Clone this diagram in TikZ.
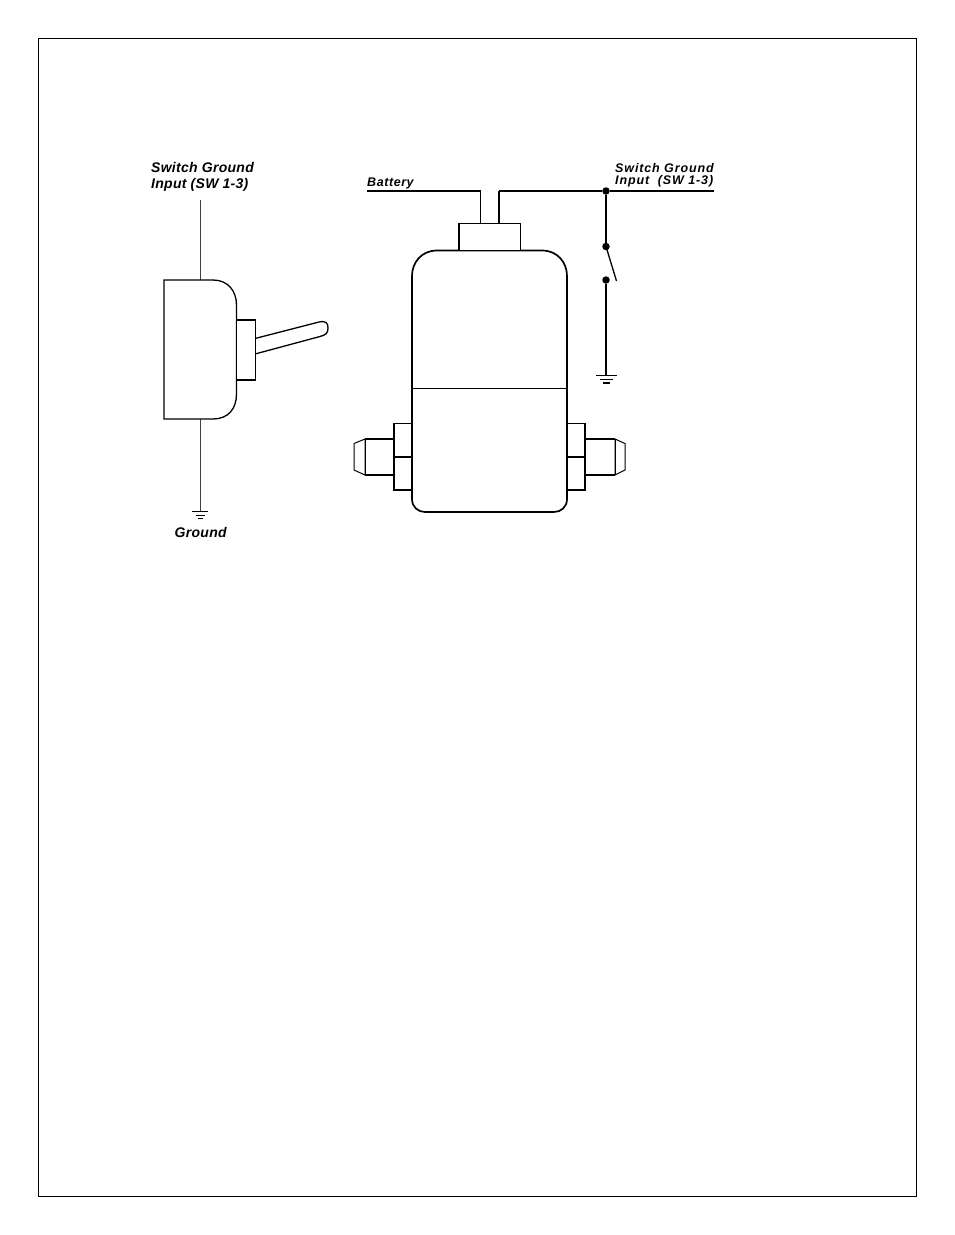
\documentclass[tikz,border=0pt]{standalone}
\usepackage{fontspec}
\setmainfont{Liberation Sans}
\newfontfamily\lblfont[LetterSpace=2]{Liberation Sans}
\newfontfamily\rlblfont[LetterSpace=7]{Liberation Sans}
\newfontfamily\batfont[LetterSpace=4.5]{Liberation Sans}
\tikzset{
  x=1pt,y=-1pt,
  frame/.style={draw=black,line width=1pt},
  part/.style={draw=black,line width=1.7pt,fill=white,line join=miter},
  thin part/.style={draw=black,line width=1.3pt,fill=white},
  wire/.style={draw=black,line width=1.7pt},
  fine wire/.style={draw=black!75,line width=1pt},
  bus/.style={draw=black,line width=2.2pt},
  dot/.style={circle,fill=black,inner sep=0pt,minimum size=7.5pt},
  gnd/.style={draw=black,line width=1pt},
  lbl/.style={inner sep=0pt,anchor=base west,font=\lblfont\fontsize{14}{15}\selectfont\bfseries\itshape},
  rlbl/.style={inner sep=0pt,anchor=base west,font=\rlblfont\fontsize{12.5}{13}\selectfont\itshape\bfseries},
  batlbl/.style={inner sep=0pt,anchor=base west,font=\batfont\fontsize{12.5}{13}\selectfont\itshape\bfseries}
}
\begin{document}
\begin{tikzpicture}
\useasboundingbox (0,0) rectangle (954,1235);
\fill[white] (0,0) rectangle (954,1235);
\draw[frame] (38,38) rectangle (916,1196);

% left: toggle switch
\node[lbl] (swA1) at (151,172) {Switch Ground};
\node[lbl] (swA2) at (151,188.5) {Input (SW 1-3)};
\node[lbl] (gndAlbl) at (174.5,537) {Ground};
\coordinate (wireAtop) at (200,200);
\coordinate (bodyAtop) at (200,280);
\coordinate (bodyAbot) at (200,419);
\coordinate (gndA) at (200,511.5);
\draw[fine wire] (wireAtop) -- (bodyAtop);
\draw[fine wire] (bodyAbot) -- (gndA);
\draw[gnd] (192,511.5) -- (208,511.5) (195.5,515) -- (204.5,515) (198,518.5) -- (202.5,518.5);
% lever
\draw[thin part] (255,338.5) -- (319,322) .. controls (326,320.5) and (328,323) .. (328,328)
  .. controls (328,333) and (326,335) .. (320,336.5) -- (255,354);
% body
\draw[thin part] (164,280) -- (213,280) .. controls (228,280) and (236.5,291) .. (236.5,305)
  -- (236.5,394) .. controls (236.5,409) and (228,419) .. (213,419) -- (164,419) -- cycle;
\draw[thin part] (236.5,320) rectangle (255.5,380);

% right: solenoid
\node[batlbl] (batlbl) at (367,186) {Battery};
\node[rlbl] (swB1) at (615,172) {Switch Ground};
\node[rlbl] (swB2) at (615,184) {Input\ \ (SW 1-3)};

\coordinate (bat) at (367,191);
\coordinate (batc) at (480.5,191);
\coordinate (bata) at (480.5,223.5);
\coordinate (swc) at (499,191);
\coordinate (swa) at (499,223.5);
\coordinate (swend) at (714,191);
\node[dot] (j1) at (606,191) {};
\node[dot] (j2) at (606,246.5) {};
\node[dot] (j3) at (606,280) {};
\coordinate (blade) at (616.5,281);
\coordinate (gndB) at (606,375.5);
\draw[wire] (batc) -- (bata);
\draw[wire] (swc) -- (swa);
\draw[bus] (bat) -- (batc);
\draw[bus] (swc) -- (j1) -- (swend);
\draw[wire] (j1) -- (j2);
\draw[draw=black,line width=1.3pt] (j2.center) -- (blade);
\draw[wire] (j3) -- (gndB);
\draw[gnd,line width=1.3pt] (596,375.5) -- (617,375.5) (600,379.5) -- (613,379.5) (603,383) -- (610,383);

% fittings left
\draw[thin part,line width=1pt] (365,439) -- (354,443.5) -- (354,470) -- (365,475) -- cycle;
\draw[part] (365,439) -- (394,439) (365,475) -- (394,475);
\draw[thin part,line width=1pt] (365,439) -- (365,475);
\draw[part] (394,423.5) rectangle (412,490);
\draw[thin part] (394,457) -- (412,457);
% fittings right
\draw[thin part,line width=1pt] (615,439) -- (625,443.5) -- (625,470) -- (615,475) -- cycle;
\draw[part] (585,439) -- (615,439) (585,475) -- (615,475);
\draw[thin part,line width=1pt] (615,439) -- (615,475);
\draw[part] (567,423.5) rectangle (585,490);
\draw[thin part] (567,457) -- (585,457);

% main body
\draw[part] (437,250.5) -- (542,250.5) .. controls (558,250.5) and (567,263) .. (567,276)
  -- (567,499) .. controls (567,507) and (561,512) .. (554,512)
  -- (425,512) .. controls (418,512) and (412,507) .. (412,499)
  -- (412,276) .. controls (412,263) and (421,250.5) .. (437,250.5) -- cycle;
\draw[thin part,line width=1.5pt] (412,388.5) -- (567,388.5);
\draw[part] (459,223.5) rectangle (520.5,250.5);
\end{tikzpicture}
\end{document}
